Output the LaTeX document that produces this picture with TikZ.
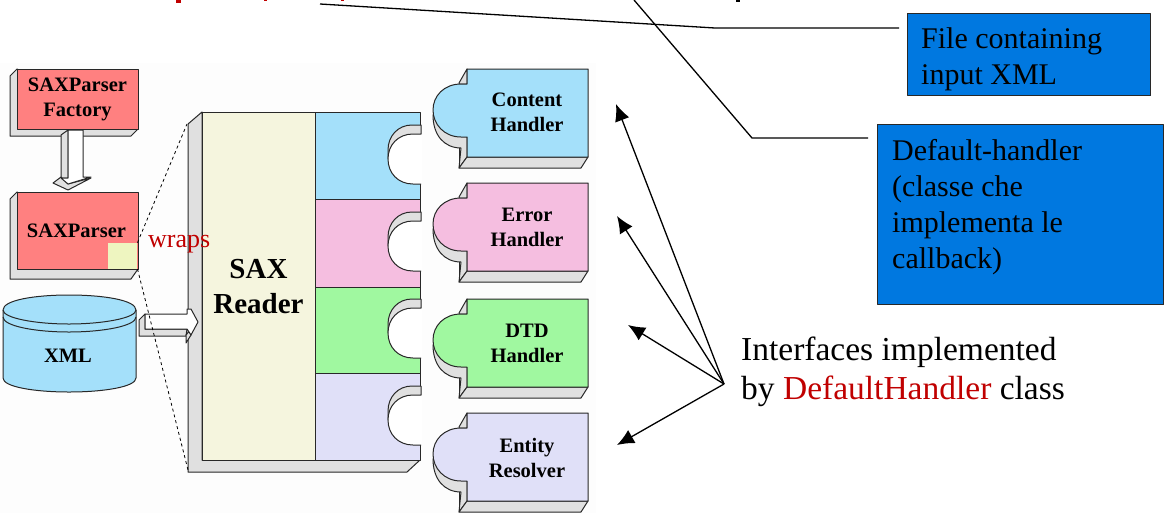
\documentclass[tikz,border=0pt]{standalone}
\usepackage{fontspec}
\setmainfont{Liberation Serif}
\usetikzlibrary{arrows.meta}

\begin{document}
\begin{tikzpicture}[x=1pt, y=-1pt, line join=round]
    % Definitions
    \definecolor{paper-tone}{RGB}{253, 253, 253}
    \definecolor{salmon-tone}{RGB}{255, 128, 128}
    \definecolor{sky-tone}{RGB}{164, 224, 250}
    \definecolor{pink-tone}{RGB}{245, 190, 224}
    \definecolor{green-tone}{RGB}{160, 248, 160}
    \definecolor{lavender-tone}{RGB}{224, 224, 248}
    \definecolor{cream-tone}{RGB}{245, 245, 222}
    \definecolor{patch-tone}{RGB}{238, 245, 192}
    \definecolor{side-grey}{RGB}{224, 224, 224}
    \definecolor{note-blue}{RGB}{0, 120, 224}
    \definecolor{word-red}{RGB}{192, 0, 0}
    \definecolor{edge-grey}{RGB}{40, 40, 40}

    \tikzset{
        solid3d/.style={draw=edge-grey, line width=1pt},
        boldlabel/.style={font=\fontsize{20.5}{25}\selectfont\bfseries,
            align=center, inner sep=0, text=black},
        notebox/.style={draw=edge-grey, line width=1.3pt, fill=note-blue,
            anchor=north west, inner sep=0},
        notetext/.style={font=\fontsize{30}{36}\selectfont, align=left,
            inner sep=0, anchor=west},
        callout/.style={line width=1.3pt},
        pointer/.style={line width=1.3pt, -{Latex[length=17pt, width=15pt]}},
    }

    \newcommand{\drawhandler}[2]{
        \begin{scope}[shift={(0,#1)}]
            \filldraw[solid3d, fill=side-grey] (459,14) -- (467,0) -- (467,15)
                -- (459,15) -- cycle;
            \filldraw[solid3d, fill=side-grey] (433,46)
                .. controls (433,66) and (444,79) .. (461,79)
                -- (459,99) -- (467,88) -- (467,50) -- (440,50) -- cycle;
            \filldraw[solid3d, fill=side-grey] (459,99) -- (467,88) -- (588,88)
                -- (581,99) -- cycle;
            \draw[solid3d] (459,79) -- (459,99);
            \filldraw[solid3d, fill=#2] (467,0) -- (588,0) -- (588,88) -- (467,88)
                -- (467,68) -- (461,68) .. controls (444,68) and (433,55) .. (433,41)
                .. controls (433,27) and (444,15) .. (461,15) -- (467,15) -- cycle;
        \end{scope}
    }

    \newcommand{\drawsocket}[3]{
        \begin{scope}[shift={(0,#1)}]
            \filldraw[solid3d, fill=#2] (315,0) rectangle (420,#3);
        \end{scope}
    }

    \newcommand{\drawnotch}[1]{
        \begin{scope}[shift={(0,#1)}]
            \filldraw[solid3d, fill=side-grey] (421,-34) -- (412,-34)
                .. controls (398,-34) and (388,-23) .. (388,-9)
                -- (388,0) -- (421,-25) -- cycle;
            \filldraw[solid3d, fill=white] (421,-25) -- (413,-25)
                .. controls (398,-25) and (388,-14) .. (388,0)
                .. controls (388,14) and (398,25) .. (413,25) -- (421,25);
            \fill[white] (412,-24.4) rectangle (422,24.4);
        \end{scope}
    }

    % Background
    \useasboundingbox (0,0) rectangle (1166,517);
    \fill[paper-tone] (0,63) rectangle (596,513);
    \foreach \x/\w/\h/\c in {176/5/3/word-red, 264/3/1/word-red,
        341/3/1/word-red, 736/4/2/black} {
        \fill[\c] (\x,0) rectangle ++(\w,\h);
    }

    % Left column
    \filldraw[solid3d, fill=side-grey] (10,76) -- (17,69) -- (138,129) -- (131,136)
        -- (10,136) -- cycle;
    \node[solid3d, fill=salmon-tone, minimum width=121pt, minimum height=60pt,
          inner sep=0, boldlabel
    ] (factory-box) at (77.5,99) {SAXParser\\Factory};

    \filldraw[solid3d, fill=side-grey] (61,135) -- (68,130) -- (68,178) -- (61,178)
        -- cycle;
    \filldraw[solid3d, fill=side-grey] (61,177) -- (53,183) -- (68,190) -- (91,178)
        -- (68,184) -- cycle;
    \filldraw[solid3d, fill=white] (68,130) -- (83,130) -- (83,177) -- (91,177)
        -- (68,184) -- (61,178) -- (68,178) -- cycle;

    \filldraw[solid3d, fill=side-grey] (10,199) -- (17,192) -- (138,269) -- (131,279)
        -- (10,279) -- cycle;
    \node[solid3d, fill=salmon-tone, minimum width=121pt, minimum height=77pt,
          inner sep=0
    ] (parser-box) at (77.5,230.5) {};
    \node[fill=patch-tone, minimum width=29pt, minimum height=26pt, inner sep=0,
          anchor=south east
    ] (wrap-patch) at (137.5,269) {};
    \node[boldlabel] (parser-label) at (76.5,231) {SAXParser};

    % XML store
    \filldraw[solid3d, fill=sky-tone] (3,310) .. controls (3,300) and (35,295) .. (69,295)
        .. controls (103,295) and (136,300) .. (136,310) -- (136,378)
        .. controls (136,387) and (103,392) .. (69,392)
        .. controls (35,392) and (3,387) .. (3,378) -- cycle;
    \draw[solid3d] (3,310) .. controls (3,318) and (35,324) .. (69,324)
        .. controls (103,324) and (136,318) .. (136,310);
    \draw[solid3d] (3,317) .. controls (3,326) and (35,332) .. (69,332)
        .. controls (103,332) and (136,326) .. (136,317);
    \node[boldlabel] (xml-label) at (68,356) {XML};

    % SAX Reader
    \filldraw[solid3d, fill=side-grey] (188,124) -- (202,112) -- (202,460) -- (420,460)
        -- (407,472) -- (188,472) -- cycle;
    \node[solid3d, fill=cream-tone, minimum width=113pt, minimum height=348pt,
          inner sep=0, anchor=north west
    ] (reader-box) at (202,112) {};
    \node[boldlabel, font=\fontsize{29}{35}\selectfont\bfseries
    ] (reader-label) at (258.5,287) {SAX\\Reader};
    \coordinate (reader-top) at (187,124);
    \coordinate (reader-low) at (188,470);

    % Big arrow
    \filldraw[solid3d, fill=side-grey] (139,336) -- (139,320) -- (145,314) -- (145,329)
        -- (187,329) -- (186,336) -- cycle;
    \filldraw[solid3d, fill=side-grey] (186,343) -- (186,335) -- (192,328) -- (191,335)
        -- cycle;
    \filldraw[solid3d, fill=white] (145,314) -- (187,314) -- (187,309) -- (191,309)
        -- (198,322) -- (191,335) -- (187,329) -- (145,329) -- cycle;
    \node[font=\fontsize{26}{28}\selectfont, text=word-red, inner sep=0,
          anchor=base west
    ] (wraps-label) at (148,247) {wraps};

    % Sockets
    \drawsocket{112}{sky-tone}{87}
    \drawsocket{199}{pink-tone}{88}
    \drawsocket{287}{green-tone}{86}
    \drawsocket{373}{lavender-tone}{87}
    \drawnotch{159}
    \drawnotch{246}
    \drawnotch{333}
    \drawnotch{420}

    % Handlers
    \drawhandler{69}{sky-tone}
    \drawhandler{183}{pink-tone}
    \drawhandler{299}{green-tone}
    \drawhandler{413}{lavender-tone}
    \node[boldlabel] (content-label) at (527,112) {Content\\Handler};
    \node[boldlabel] (error-label) at (527,227) {Error\\Handler};
    \node[boldlabel] (dtd-label) at (527,343) {DTD\\Handler};
    \node[boldlabel] (entity-label) at (527,458) {Entity\\Resolver};

    % Dashed wrap lines
    \draw[dashed, line width=0.8pt] (wrap-patch.north east) -- (reader-top);
    \draw[dashed, line width=0.8pt] (wrap-patch.south east) -- (reader-low);

    % Notes
    \node[notebox, minimum width=243pt, minimum height=82pt] (file-box) at (907,13) {};
    \node[notetext] (file-text) at (921,59) {File containing\\input XML};
    \node[notebox, minimum width=286pt, minimum height=180pt] (default-box) at (877,124) {};
    \node[notetext] (default-text) at (892,207) {Default-handler\\(classe che\\implementa le\\callback)};

    \coordinate (file-far) at (320,4);
    \coordinate (file-bend) at (715,28);
    \coordinate (file-near) at (899,28);
    \draw[callout] (file-far) -- (file-bend) -- (file-near);
    \coordinate (default-far) at (634,0);
    \coordinate (default-bend) at (752,138);
    \coordinate (default-near) at (868,138);
    \draw[callout] (default-far) -- (default-bend) -- (default-near);

    % Pointers
    \node[font=\fontsize{33.5}{39}\selectfont, align=left, inner sep=0, anchor=west
    ] (interfaces-label) at (741,372) {Interfaces implemented\\by \textcolor{word-red}{DefaultHandler} class};
    \coordinate (pointer-hub) at (724,384);
    \coordinate (content-tip) at (616,104);
    \coordinate (error-tip) at (617,216);
    \coordinate (dtd-tip) at (628,325);
    \coordinate (entity-tip) at (617,445);
    \foreach \tip in {content-tip, error-tip, dtd-tip, entity-tip} {
        \draw[pointer] (pointer-hub) -- (\tip);
    }
\end{tikzpicture}
\end{document}
